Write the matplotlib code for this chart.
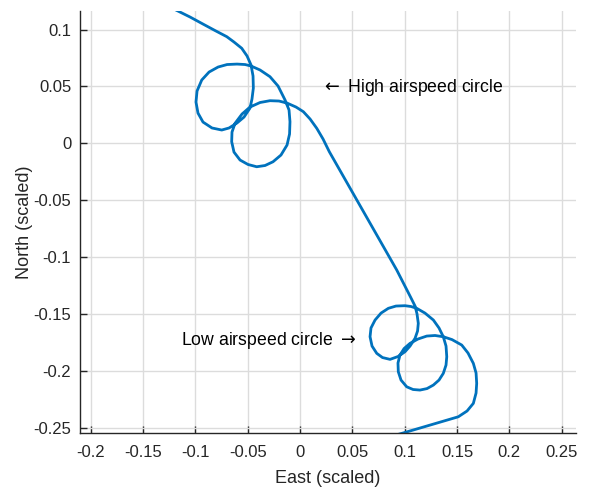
import matplotlib
matplotlib.use('Agg')
import matplotlib.pyplot as plt

plt.rcParams['font.family'] = ['Liberation Sans', 'DejaVu Sans']

# flight path (East, North)
east = [-0.1185, -0.1051, -0.0927, -0.0812, -0.0700, -0.0631, -0.0557, -0.0506, -0.0468,
        -0.0449, -0.0446, -0.0459, -0.0478, -0.0535, -0.0602, -0.0678, -0.0748, -0.0841,
        -0.0927, -0.0975, -0.0994, -0.0984, -0.0939, -0.0869, -0.0783, -0.0697, -0.0602,
        -0.0525, -0.0468,
        -0.0382, -0.0287, -0.0210, -0.0143, -0.0105, -0.0096, -0.0100, -0.0124, -0.0182,
        -0.0258, -0.0334, -0.0414, -0.0497, -0.0573, -0.0631, -0.0653, -0.0650, -0.0621,
        -0.0554, -0.0478, -0.0382, -0.0287, -0.0201, -0.0124, -0.0038, 0.0032, 0.0096,
        0.0160, 0.0220, 0.0280,
        0.0924, 0.1056, 0.1099,
        0.1118, 0.1130, 0.1123, 0.1099, 0.1051, 0.1003, 0.0936, 0.0860, 0.0788, 0.0733,
        0.0688, 0.0669, 0.0678, 0.0717, 0.0774, 0.0844, 0.0917, 0.1003, 0.1060, 0.1115,
        0.1194, 0.1274, 0.1328, 0.1369, 0.1395, 0.1402, 0.1395, 0.1369, 0.1328, 0.1274,
        0.1213, 0.1146, 0.1080, 0.1019, 0.0965, 0.0939, 0.0936, 0.0955, 0.0994, 0.1051,
        0.1127, 0.1211, 0.1290, 0.1369, 0.1452, 0.1545, 0.1605, 0.1656, 0.1682, 0.1688,
        0.1682, 0.1656, 0.1596, 0.1512, 0.1242, 0.0972, 0.0917]
north = [0.1172, 0.1111, 0.1049, 0.0992, 0.0938, 0.0891, 0.0836, 0.0768, 0.0689,
         0.0592, 0.0486, 0.0390, 0.0310, 0.0231, 0.0179, 0.0135, 0.0117, 0.0135,
         0.0187, 0.0266, 0.0363, 0.0460, 0.0557, 0.0627, 0.0671, 0.0693, 0.0697,
         0.0693, 0.0680,
         0.0645, 0.0586, 0.0504, 0.0381, 0.0293, 0.0190, 0.0082, -0.0015, -0.0103,
         -0.0162, -0.0195, -0.0206, -0.0186, -0.0147, -0.0077, 0.0014, 0.0099, 0.0176,
         0.0258, 0.0319, 0.0359, 0.0375, 0.0372, 0.0354, 0.0319, 0.0278, 0.0214,
         0.0132, 0.0038, -0.0074,
         -0.1114, -0.1352, -0.1431,
         -0.1501, -0.1583, -0.1651, -0.1715, -0.1783, -0.1833, -0.1875, -0.1900, -0.1884, -0.1847,
         -0.1783, -0.1701, -0.1624, -0.1554, -0.1493, -0.1451, -0.1431, -0.1428, -0.1435, -0.1451,
         -0.1493, -0.1554, -0.1624, -0.1701, -0.1783, -0.1877, -0.1950, -0.2023, -0.2082, -0.2126,
         -0.2157, -0.2170, -0.2165, -0.2141, -0.2082, -0.2009, -0.1932, -0.1862, -0.1805, -0.1759,
         -0.1721, -0.1695, -0.1690, -0.1701, -0.1726, -0.1774, -0.1844, -0.1935, -0.2020, -0.2111,
         -0.2196, -0.2287, -0.2354, -0.2405, -0.2478, -0.2551, -0.2565]

xticks = [-0.2, -0.15, -0.1, -0.05, 0, 0.05, 0.1, 0.15, 0.2, 0.25]
yticks = [-0.25, -0.2, -0.15, -0.1, -0.05, 0, 0.05, 0.1]

fig = plt.figure(figsize=(5.92, 4.88), dpi=100)
ax = fig.add_axes([0.1343, 0.1133, 0.9730 - 0.1343, 0.9775 - 0.1133])

ax.plot(east, north, color='#0072BD', lw=2, solid_joinstyle='round')

ax.set_xlim(-0.2107, 0.2637)
ax.set_ylim(-0.2545, 0.1164)
ax.set_xticks(xticks)
ax.set_yticks(yticks)
ax.set_xticklabels(['%g' % t for t in xticks])
ax.set_yticklabels(['%g' % t for t in yticks])

ax.grid(True, color='#dcdcdc', lw=1)
ax.set_axisbelow(True)
for s in ['top', 'right']:
    ax.spines[s].set_visible(False)
for s in ['left', 'bottom']:
    ax.spines[s].set_color('#262626')
    ax.spines[s].set_linewidth(1)
ax.tick_params(direction='in', length=5, width=1, color='#262626',
               labelcolor='#262626', labelsize=12, pad=6)
ax.tick_params(axis='x', pad=9)

ax.set_xlabel('East (scaled)', fontsize=13, color='#262626', labelpad=7)
ax.set_ylabel('North (scaled)', fontsize=13, color='#262626', labelpad=0)

ax.text(0.0205, 0.0495, r'$\leftarrow$ High airspeed circle', fontsize=12.7,
        ha='left', va='center', color='black')
ax.text(0.0535, -0.173, r'Low airspeed circle $\rightarrow$', fontsize=12.7,
        ha='right', va='center', color='black')

fig.savefig('out.png', dpi=100)
